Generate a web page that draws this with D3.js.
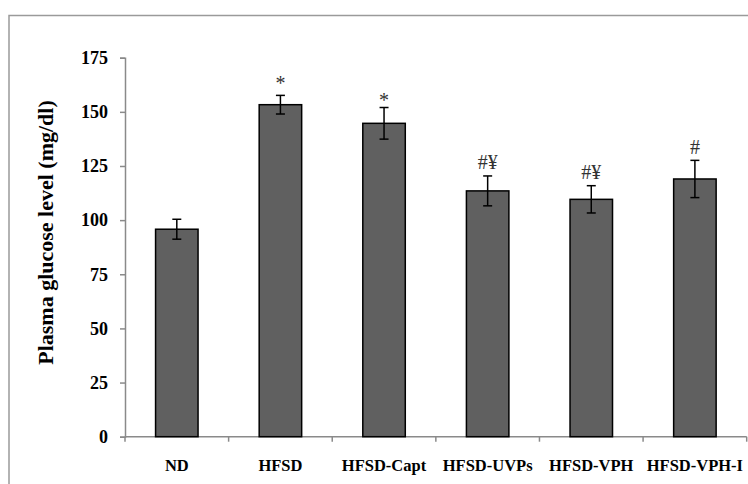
<!DOCTYPE html>
<html>
<head>
<meta charset="utf-8">
<script src="https://cdn.jsdelivr.net/npm/d3@7"></script>
<style>
  body { margin: 0; background: #fff; }
  text { font-family: "Liberation Serif", "Times New Roman", serif; }
</style>
</head>
<body>
<svg id="chart"></svg>
<script>
// data
const groups = ["ND", "HFSD", "HFSD-Capt", "HFSD-UVPs", "HFSD-VPH", "HFSD-VPH-I"];
const means  = [95.8, 153.3, 144.7, 113.5, 109.6, 119.0];
const errors = [4.6, 4.3, 7.3, 6.9, 6.3, 8.6];
const marks  = ["", "*", "*", "#¥", "#¥", "#"];
const markLevels = [0, 160.1, 152.1, 123.8, 118.9, 130.6]; // baseline of the marks, in mg/dl
const yTicks = [0, 25, 50, 75, 100, 125, 150, 175];

const width = 748, height = 484;
const margin = {top: 57.7, right: 1.3, bottom: 47.3, left: 125};

const svg = d3.select("#chart")
              .attr("width", width)
              .attr("height", height);

// outer frame
svg.append("rect")
   .attr("x", 9).attr("y", 15.5)
   .attr("width", 760).attr("height", 500)
   .attr("fill", "none")
   .attr("stroke", "#9a9a9a")
   .attr("stroke-width", 1.5);

const x = d3.scaleBand()
            .domain(groups)
            .range([margin.left, width - margin.right])
            .paddingInner(0.59)
            .paddingOuter(0.295);

const y = d3.scaleLinear()
            .domain([0, 175])
            .range([height - margin.bottom, margin.top]);

// y axis
const yAxis = svg.append("g")
   .attr("transform", `translate(${margin.left},0)`)
   .call(d3.axisLeft(y).tickValues(yTicks).tickSize(5).tickPadding(12));
yAxis.selectAll("path, line").attr("stroke", "#8a8a8a").attr("stroke-width", 1.5);
yAxis.selectAll("text")
     .attr("font-size", "18px").attr("font-weight", "bold").attr("fill", "#000")
     .style("font-family", "'Liberation Serif', serif");

// x axis: ticks sit between the bars
const xAxisG = svg.append("g").attr("transform", `translate(0,${y(0)})`);
const step = x.step();
xAxisG.append("line")
      .attr("x1", margin.left).attr("x2", width - margin.right)
      .attr("stroke", "#8a8a8a").attr("stroke-width", 1.5);
xAxisG.selectAll(".xtick")
      .data(d3.range(groups.length + 1))
      .enter()
      .append("line")
      .attr("x1", i => margin.left + i * step)
      .attr("x2", i => margin.left + i * step)
      .attr("y1", 0).attr("y2", 5)
      .attr("stroke", "#8a8a8a").attr("stroke-width", 1.5);
xAxisG.selectAll(".xlab")
      .data(groups)
      .enter()
      .append("text")
      .attr("x", d => x(d) + x.bandwidth() / 2)
      .attr("y", 34.5)
      .attr("text-anchor", "middle")
      .attr("font-size", "16.5px")
      .attr("font-weight", "bold")
      .text(d => d);

// y title
svg.append("text")
   .attr("transform", `translate(53,232.5) rotate(-90)`)
   .attr("text-anchor", "middle")
   .attr("font-size", "22px")
   .attr("font-weight", "bold")
   .text("Plasma glucose level (mg/dl)");

// bars
svg.selectAll(".bar")
   .data(groups)
   .enter()
   .append("rect")
   .attr("x", d => x(d))
   .attr("y", (d, i) => y(means[i]))
   .attr("width", x.bandwidth())
   .attr("height", (d, i) => y(0) - y(means[i]))
   .attr("fill", "#606060")
   .attr("stroke", "#000")
   .attr("stroke-width", 1.5);

// error bars
const err = svg.selectAll(".err")
   .data(groups)
   .enter()
   .append("g")
   .attr("stroke", "#000")
   .attr("stroke-width", 1.5);
err.append("line")
   .attr("x1", d => x(d) + x.bandwidth() / 2)
   .attr("x2", d => x(d) + x.bandwidth() / 2)
   .attr("y1", (d, i) => y(means[i] + errors[i]))
   .attr("y2", (d, i) => y(means[i] - errors[i]));
[1, -1].forEach(s => {
  err.append("line")
     .attr("x1", d => x(d) + x.bandwidth() / 2 - 4.5)
     .attr("x2", d => x(d) + x.bandwidth() / 2 + 4.5)
     .attr("y1", (d, i) => y(means[i] + s * errors[i]))
     .attr("y2", (d, i) => y(means[i] + s * errors[i]));
});

// significance marks
svg.selectAll(".mark")
   .data(groups)
   .enter()
   .append("text")
   .attr("x", d => x(d) + x.bandwidth() / 2)
   .attr("y", (d, i) => y(markLevels[i]))
   .attr("text-anchor", "middle")
   .attr("font-size", "20px")
   .attr("fill", "#333")
   .text((d, i) => marks[i]);
</script>
</body>
</html>
